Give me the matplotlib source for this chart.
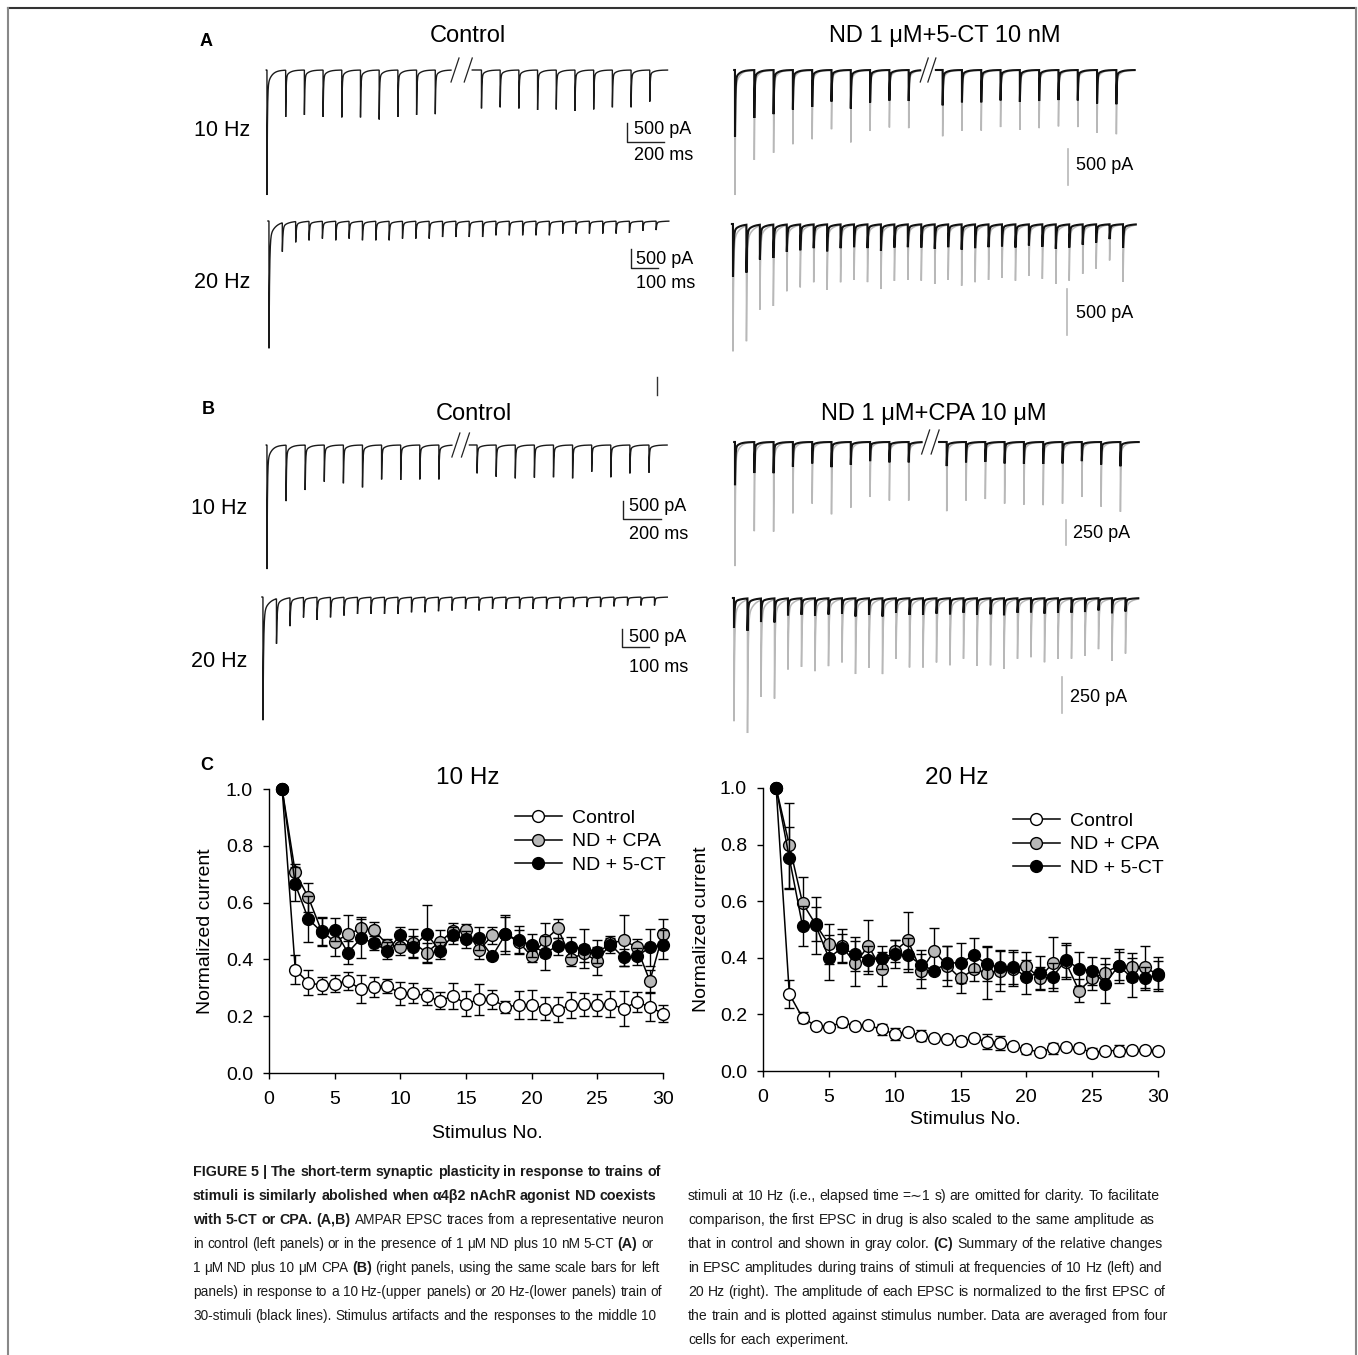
import numpy as np
import matplotlib.pyplot as plt
from matplotlib.lines import Line2D

plt.rcParams['font.family'] = ['Liberation Sans', 'DejaVu Sans']

W, H = 1358, 1355
fig = plt.figure(figsize=(W / 100, H / 100), dpi=100)

# ---------------- panel C data (normalized EPSC amplitude) ----------------
stim = np.arange(1, 31)

ctrl10 = [1.0, 0.364, 0.318, 0.309, 0.315, 0.324, 0.295, 0.303, 0.307, 0.280,
          0.283, 0.270, 0.254, 0.271, 0.244, 0.259, 0.259, 0.233, 0.239, 0.241,
          0.227, 0.223, 0.239, 0.242, 0.239, 0.242, 0.227, 0.250, 0.233, 0.209]
ctrl10_err = [0, 0.05, 0.045, 0.03, 0.03, 0.03, 0.05, 0.035, 0.025, 0.04,
              0.035, 0.03, 0.03, 0.045, 0.045, 0.055, 0.035, 0.02, 0.05, 0.05,
              0.04, 0.045, 0.045, 0.04, 0.04, 0.045, 0.06, 0.035, 0.05, 0.03]
cpa10 = [1.0, 0.706, 0.618, 0.500, 0.462, 0.488, 0.509, 0.503, 0.452, 0.444,
         0.458, 0.424, 0.462, 0.499, 0.505, 0.432, 0.485, 0.489, 0.462, 0.411,
         0.468, 0.509, 0.403, 0.421, 0.394, 0.456, 0.468, 0.442, 0.324, 0.491]
cpa10_err = [0, 0.03, 0.05, 0.05, 0.05, 0.07, 0.04, 0.03, 0.02, 0.03,
             0.05, 0.035, 0.04, 0.03, 0.02, 0.03, 0.03, 0.06, 0.04, 0.02,
             0.06, 0.035, 0.025, 0.03, 0.05, 0.02, 0.09, 0.03, 0.04, 0.05]
ct10 = [1.0, 0.664, 0.542, 0.497, 0.505, 0.424, 0.474, 0.458, 0.430, 0.485,
        0.444, 0.491, 0.430, 0.485, 0.471, 0.474, 0.411, 0.488, 0.468, 0.450,
        0.423, 0.447, 0.444, 0.438, 0.427, 0.452, 0.407, 0.411, 0.442, 0.452]
ct10_err = [0, 0.06, 0.08, 0.05, 0.04, 0.04, 0.07, 0.025, 0.03, 0.03,
            0.04, 0.10, 0.03, 0.03, 0.03, 0.04, 0.0, 0.07, 0.05, 0.04,
            0.06, 0.03, 0.035, 0.07, 0.04, 0.03, 0.03, 0.03, 0.065, 0.05]

ctrl20 = [1.0, 0.272, 0.188, 0.160, 0.156, 0.172, 0.160, 0.162, 0.147, 0.131,
          0.139, 0.125, 0.115, 0.113, 0.106, 0.115, 0.104, 0.100, 0.089, 0.076,
          0.068, 0.080, 0.084, 0.082, 0.065, 0.072, 0.072, 0.074, 0.074, 0.071]
ctrl20_err = [0, 0.05, 0.02, 0.01, 0.01, 0.015, 0.01, 0.01, 0.02, 0.02,
              0.01, 0.02, 0.01, 0.01, 0.015, 0.01, 0.025, 0.025, 0.01, 0.015,
              0.01, 0.02, 0.01, 0.015, 0.015, 0.01, 0.02, 0.01, 0.01, 0.01]
cpa20 = [1.0, 0.798, 0.594, 0.518, 0.448, 0.441, 0.380, 0.442, 0.360, 0.424,
         0.462, 0.354, 0.424, 0.372, 0.327, 0.359, 0.348, 0.354, 0.362, 0.372,
         0.327, 0.382, 0.384, 0.284, 0.327, 0.348, 0.372, 0.368, 0.368, 0.339]
cpa20_err = [0, 0.15, 0.09, 0.06, 0.07, 0.06, 0.08, 0.09, 0.06, 0.04,
             0.10, 0.06, 0.08, 0.07, 0.05, 0.04, 0.095, 0.07, 0.06, 0.05,
             0.04, 0.09, 0.06, 0.04, 0.04, 0.05, 0.05, 0.05, 0.075, 0.05]
ct20 = [1.0, 0.753, 0.513, 0.515, 0.400, 0.435, 0.412, 0.392, 0.401, 0.413,
        0.409, 0.376, 0.354, 0.382, 0.382, 0.409, 0.378, 0.366, 0.366, 0.331,
        0.348, 0.333, 0.392, 0.362, 0.354, 0.309, 0.372, 0.331, 0.327, 0.342]
ct20_err = [0, 0.11, 0.07, 0.10, 0.08, 0.05, 0.06, 0.05, 0.04, 0.05,
            0.06, 0.05, 0.0, 0.06, 0.07, 0.06, 0.06, 0.06, 0.06, 0.06,
            0.06, 0.05, 0.06, 0.06, 0.05, 0.07, 0.06, 0.07, 0.04, 0.06]

# ---------------- panels A, B: peak amplitudes of the example traces (pA) ----------------
ctrlA10_pa = [3290, 1230, 1180, 1230, 1245, 1245, 1300, 1230, 1180, 1160,
              1010, 980, 1010, 1050, 1035, 1070, 1035, 980, 980, 830]
ctrlA20_pa = [3350, 760, 545, 500, 455, 500, 455, 500, 500, 500,
              455, 455, 455, 415, 415, 415, 415, 370, 370, 370,
              370, 370, 325, 325, 325, 325, 325, 310, 255, 235]
ctA10_pa = [1755, 1260, 1160, 1040, 970, 830, 1015, 855, 805, 815,
            930, 850, 850, 800, 840, 815, 790, 800, 880, 900]
ctA20_pa = [1390, 1260, 915, 880, 720, 680, 625, 710, 625, 600,
            625, 700, 610, 600, 610, 645, 600, 665, 625, 600,
            580, 610, 555, 590, 645, 610, 535, 480, 390, 625]
ctrlB10_pa = [3505, 1580, 1270, 1035, 1080, 1195, 970, 985, 970, 970,
              800, 895, 940, 920, 910, 940, 755, 910, 800, 780]
ctrlB20_pa = [3480, 1270, 800, 565, 640, 565, 515, 470, 470, 470,
              470, 425, 425, 395, 375, 330, 375, 330, 330, 330,
              330, 330, 330, 280, 280, 280, 260, 235, 235, 235]
cpaB10_pa = [1220, 875, 880, 700, 605, 710, 645, 540, 575, 575,
             680, 575, 560, 605, 615, 620, 605, 540, 635, 685]
cpaB20_pa = [846, 915, 665, 680, 480, 465, 495, 460, 435, 515,
             470, 515, 410, 470, 470, 435, 455, 410, 460, 455,
             480, 410, 400, 435, 410, 410, 390, 345, 425, 375]


def fx(x):
    return x / W


def fy(y):
    return 1 - y / H


class Panel:
    """Invisible axes where (0 ms, 0 pA) sits at pixel (x0, base)."""

    def __init__(self, x0, base, px_ms, px_pa):
        self.x0, self.base, self.px_ms, self.px_pa = x0, base, px_ms, px_pa
        left, right, top, bottom = x0 - 15, x0 + 445, base - 40, base + 160
        self.ax = fig.add_axes([fx(left), fy(bottom), (right - left) / W, (bottom - top) / H])
        self.ax.set_xlim(-15 / px_ms, 445 / px_ms)
        self.ax.set_ylim(-160 / px_pa, 40 / px_pa)
        self.ax.axis('off')
        self.ax.patch.set_visible(False)

    def t(self, X):
        return (X - self.x0) / self.px_ms

    def a(self, Y):
        return -(Y - self.base) / self.px_pa


def train(p, amps, interval, color, lw, gap=None, split=10, z=2):
    onsets = np.arange(len(amps)) * float(interval)
    if gap is not None:
        onsets[split:] += gap - interval
    t = np.arange(-4, onsets[-1] + 0.95 * interval, 0.2)
    y = np.zeros_like(t)
    for t0, amp in zip(onsets, amps):
        s = t - t0
        m = s >= 0
        y[m] -= amp * (0.86 * np.exp(-s[m] / 2.2) + 0.14 * np.exp(-s[m] / 22.0))
    if gap is not None:
        t_end = onsets[split - 1] + 0.34 * gap
        t_start = onsets[split] - 0.2 * gap
        y[(t > t_end) & (t < t_start)] = np.nan
    p.ax.plot(t, y, color=color, lw=lw, zorder=z, solid_joinstyle='miter')
    return onsets


def break_marks(p, onsets, gap, split=10):
    t_end = onsets[split - 1] + 0.34 * gap
    t_start = onsets[split] - 0.2 * gap
    dx = 8 / p.px_ms
    for tc in (t_end, t_start - dx):
        p.ax.plot([tc, tc + dx], [p.a(p.base + 12), p.a(p.base - 12)], color='#222', lw=0.9)


def lbar(p, X, Y, pa, ms, txt1, txt2, tx, ty1, ty2):
    p.ax.plot([p.t(X), p.t(X), p.t(X) + ms], [p.a(Y) + pa, p.a(Y), p.a(Y)], color='#222', lw=1.0)
    p.ax.text(p.t(tx), p.a(ty1), txt1, fontsize=13, va='center', ha='left')
    p.ax.text(p.t(tx), p.a(ty2), txt2, fontsize=13, va='center', ha='left')


def gbar(p, X, Y, pa, txt, tx, ty):
    p.ax.plot([p.t(X), p.t(X)], [p.a(Y), p.a(Y) + pa], color='#b8b8b8', lw=1.2)
    p.ax.text(p.t(tx), p.a(ty), txt, fontsize=13, va='center', ha='left')


GRAY = '#b8b8b8'
PXPA_A = 19 / 500
PXPA_B = 17.7 / 500

# ---- A, control ----
p = Panel(267, 70, 0.187, PXPA_A)
on = train(p, ctrlA10_pa, 100, '#1a1a1a', 1.0, gap=247)
break_marks(p, on, 247)
lbar(p, 627, 142, 500, 200, '500 pA', '200 ms', 634, 130, 155)

p = Panel(269, 221, 0.267, PXPA_A)
train(p, ctrlA20_pa, 50, '#1a1a1a', 1.0)
lbar(p, 631, 268, 500, 100, '500 pA', '100 ms', 636, 259, 284)

# ---- A, ND + 5-CT ----
p = Panel(735, 70, 0.193, PXPA_A)
k = ctrlA10_pa[0] / ctA10_pa[0]
on = train(p, np.array(ctA10_pa) * k, 100, GRAY, 1.1, gap=176, z=1)
train(p, ctA10_pa, 100, '#111111', 1.5, gap=176, z=2)
break_marks(p, on, 176)
gbar(p, 1068, 185, 500 * k, '500 pA', 1076, 165)

p = Panel(733, 224, 0.269, PXPA_A)
k = ctrlA20_pa[0] / ctA20_pa[0]
train(p, np.array(ctA20_pa) * k, 50, GRAY, 1.1, z=1)
train(p, ctA20_pa, 50, '#111111', 1.5, z=2)
gbar(p, 1067, 335, 500 * k, '500 pA', 1076, 313)

# ---- B, control ----
p = Panel(267, 445, 0.191, PXPA_B)
on = train(p, ctrlB10_pa, 100, '#1a1a1a', 1.0, gap=200)
break_marks(p, on, 200)
lbar(p, 623, 519, 500, 200, '500 pA', '200 ms', 629, 507, 535)

p = Panel(263, 597, 0.27, PXPA_B)
train(p, ctrlB20_pa, 50, '#1a1a1a', 1.0)
lbar(p, 622, 647, 500, 100, '500 pA', '100 ms', 629, 638, 667)

# ---- B, ND + CPA ----
p = Panel(735, 442, 0.193, PXPA_B)
k = ctrlB10_pa[0] / cpaB10_pa[0]
on = train(p, np.array(cpaB10_pa) * k, 100, GRAY, 1.1, gap=197, z=1)
train(p, cpaB10_pa, 100, '#111111', 1.5, gap=197, z=2)
break_marks(p, on, 197)
gbar(p, 1066, 545, 250 * k, '250 pA', 1073, 533)

p = Panel(734, 598, 0.27, PXPA_B)
k = ctrlB20_pa[0] / cpaB20_pa[0]
train(p, np.array(cpaB20_pa) * k, 50, GRAY, 1.1, z=1)
train(p, cpaB20_pa, 50, '#111111', 1.5, z=2)
gbar(p, 1062, 713, 250 * k, '250 pA', 1070, 698)

# stray tick left over in the original artwork
fig.add_artist(Line2D([fx(657), fx(657)], [fy(377), fy(395)], color='#333', lw=1.0))

# ---- titles / labels for A and B ----
fig.text(fx(200), fy(42), 'A', fontsize=13, fontweight='bold', va='center')
fig.text(fx(202), fy(410), 'B', fontsize=13, fontweight='bold', va='center')
fig.text(fx(200), fy(765), 'C', fontsize=13, fontweight='bold', va='center')
fig.text(fx(468), fy(36), 'Control', fontsize=17, ha='center', va='center')
fig.text(fx(945), fy(36), 'ND 1 \u03bcM+5-CT 10 nM', fontsize=17, ha='center', va='center')
fig.text(fx(474), fy(414), 'Control', fontsize=17, ha='center', va='center')
fig.text(fx(934), fy(414), 'ND 1 \u03bcM+CPA 10 \u03bcM', fontsize=17, ha='center', va='center')
for x, y, s in [(222, 131, '10 Hz'), (222, 283, '20 Hz'), (219, 509, '10 Hz'), (219, 661, '20 Hz')]:
    fig.text(fx(x), fy(y), s, fontsize=15.5, ha='center', va='center')

# ---------------- panel C ----------------
series = [('Control', 'white'), ('ND + CPA', '#b8b8b8'), ('ND + 5-CT', 'black')]


def summary(box, title, title_xy, data, ylab_x, xlab_xy, leg_xy):
    l, t, r, b = box
    ax = fig.add_axes([fx(l), fy(b), (r - l) / W, (b - t) / H])
    handles = []
    for (name, fc), (vals, err), z in zip(series, data, (3, 4, 5)):
        ax.errorbar(stim, vals, yerr=err, fmt='-o', color='black', lw=1.1,
                    ms=8.5, mfc=fc, mec='black', mew=1.0, ecolor='black',
                    elinewidth=1.0, capsize=3.5, capthick=1.0, zorder=z, clip_on=False)
        handles.append(Line2D([], [], color='black', lw=1.1, marker='o', ms=8.5,
                              mfc=fc, mec='black', mew=1.0))
    ax.set_xlim(0, 30)
    ax.set_ylim(0, 1.0)
    ax.set_xticks(range(0, 31, 5))
    ax.set_yticks(np.arange(0, 1.01, 0.2))
    ax.yaxis.set_major_formatter(plt.FormatStrFormatter('%.1f'))
    for s in ('top', 'right'):
        ax.spines[s].set_visible(False)
    for s in ('left', 'bottom'):
        ax.spines[s].set_linewidth(1.0)
    ax.tick_params(direction='out', length=4, width=1.0, labelsize=14)
    ax.tick_params(axis='x', pad=9)
    ax.tick_params(axis='y', pad=7.5)
    ax.set_ylabel('Normalized current', fontsize=14)
    ax.yaxis.set_label_coords((ylab_x - l) / (r - l), 0.5)
    ax.set_xlabel('Stimulus No.', fontsize=14)
    ax.xaxis.set_label_coords((xlab_xy[0] - l) / (r - l), (b - xlab_xy[1]) / (b - t))
    ax.xaxis.label.set_va('center')
    ax.yaxis.label.set_va('center')
    fig.text(fx(title_xy[0]), fy(title_xy[1]), title, fontsize=17.5, ha='center', va='center')
    ax.legend(handles, [n for n, _ in series], loc='upper left', frameon=False,
              bbox_to_anchor=(fx(leg_xy[0]), fy(leg_xy[1])), bbox_transform=fig.transFigure,
              fontsize=14, handlelength=2.4, handletextpad=0.55, labelspacing=0.32,
              borderpad=0, borderaxespad=0)
    return ax


summary((269, 789, 663, 1073), '10 Hz', (468, 778),
        [(ctrl10, ctrl10_err), (cpa10, cpa10_err), (ct10, ct10_err)],
        205, (487, 1133), (515, 809))
summary((763, 788, 1158, 1071), '20 Hz', (957, 778),
        [(ctrl20, ctrl20_err), (cpa20, cpa20_err), (ct20, ct20_err)],
        702, (965, 1120), (1013, 812))

# ---------------- caption (placed word by word) ----------------
CAP = ['Liberation Sans Narrow', 'Liberation Sans', 'DejaVu Sans']
renderer = fig.canvas.get_renderer()


def text_w(s, weight, size):
    t = fig.text(0, 0, s, fontsize=size, family=CAP, fontweight=weight)
    w = t.get_window_extent(renderer).width
    t.remove()
    return w


def rich_line(x, y, parts, size_reg, size_bold):
    for s, bold in parts:
        wt = 'bold' if bold else 'normal'
        size = size_bold if bold else size_reg
        gap = text_w('a a', wt, size) - text_w('aa', wt, size)
        words = s.split(' ')
        for j, wd in enumerate(words):
            if wd:
                t = fig.text(fx(x), fy(y), wd, fontsize=size, family=CAP,
                             fontweight=wt, va='baseline', ha='left', color='#1a1a1a')
                x += t.get_window_extent(renderer).width
            if j < len(words) - 1:
                x += gap


mu = '\u03bc'
left_lines = [
    [('FIGURE 5 | The short-term synaptic plasticity in response to trains of', True)],
    [('stimuli is similarly abolished when \u03b14\u03b22 nAchR agonist ND coexists', True)],
    [('with 5-CT or CPA. (A,B) ', True), ('AMPAR EPSC traces from a representative neuron', False)],
    [('in control (left panels) or in the presence of 1 ' + mu + 'M ND plus 10 nM 5-CT ', False),
     ('(A) ', True), ('or', False)],
    [('1 ' + mu + 'M ND plus 10 ' + mu + 'M CPA ', False), ('(B) ', True),
     ('(right panels, using the same scale bars for left', False)],
    [('panels) in response to a 10 Hz-(upper panels) or 20 Hz-(lower panels) train of', False)],
    [('30-stimuli (black lines). Stimulus artifacts and the responses to the middle 10', False)],
]
right_lines = [
    [('stimuli at 10 Hz (i.e., elapsed time =\u223c1 s) are omitted for clarity. To facilitate', False)],
    [('comparison, the first EPSC in drug is also scaled to the same amplitude as', False)],
    [('that in control and shown in gray color. ', False), ('(C) ', True),
     ('Summary of the relative changes', False)],
    [('in EPSC amplitudes during trains of stimuli at frequencies of 10 Hz (left) and', False)],
    [('20 Hz (right). The amplitude of each EPSC is normalized to the first EPSC of', False)],
    [('the train and is plotted against stimulus number. Data are averaged from four', False)],
    [('cells for each experiment.', False)],
]
for i, parts in enumerate(left_lines):
    rich_line(193, 1176 + 24 * i, parts, 9.85, 10.3)
for i, parts in enumerate(right_lines):
    rich_line(688, 1200 + 24 * i, parts, 10.05, 10.3)

# page frame
fig.add_artist(Line2D([fx(8), fx(1356)], [fy(8), fy(8)], color='#333333', lw=1.5))
fig.add_artist(Line2D([fx(8), fx(8)], [fy(8), 0], color='#888888', lw=1.5))
fig.add_artist(Line2D([fx(1356), fx(1356)], [fy(8), 0], color='#888888', lw=1.5))

fig.savefig('out.png', dpi=100)
